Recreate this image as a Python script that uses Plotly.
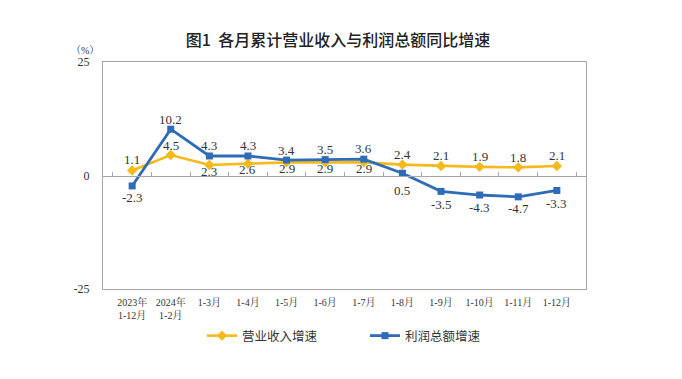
import plotly.graph_objects as go

categories = ["2023年<br>1-12月", "2024年<br>1-2月", "1-3月", "1-4月", "1-5月", "1-6月",
              "1-7月", "1-8月", "1-9月", "1-10月", "1-11月", "1-12月"]
revenue_growth = [1.1, 4.5, 2.3, 2.6, 2.9, 2.9, 2.9, 2.4, 2.1, 1.9, 1.8, 2.1]
profit_growth = [-2.3, 10.2, 4.3, 4.3, 3.4, 3.5, 3.6, 0.5, -3.5, -4.3, -4.7, -3.3]
y_ticks = [-25, 0, 25]

# label vertical offsets in px (style, not data)
revenue_label_shift = [11, 10, -6, -6, -6, -6, -6, 10, 10, 10, 10, 10]
profit_label_shift = [-12, 10, 10, 10, 10, 10, 11, -17, -13, -12, -12, -13]

YELLOW = "#F6B91C"
BLUE = "#2E6BB8"
SERIF = "Liberation Serif, 'Noto Serif CJK SC', 'Noto Sans CJK SC', serif"
CJK = "'Noto Sans CJK SC', sans-serif"

fig = go.Figure()
fig.add_trace(go.Scatter(
    x=categories, y=revenue_growth, name="营业收入增速", mode="lines+markers",
    line=dict(color=YELLOW, width=2.6),
    marker=dict(symbol="diamond", size=8, color=YELLOW),
    xaxis="x", yaxis="y", legend="legend",
))
fig.add_trace(go.Scatter(
    x=categories, y=profit_growth, name="利润总额增速", mode="lines+markers",
    line=dict(color=BLUE, width=2.8),
    marker=dict(symbol="square", size=7, color=BLUE),
    xaxis="x2", yaxis="y", legend="legend2",
))

annotations = []
for cat, v, s in zip(categories, revenue_growth, revenue_label_shift):
    annotations.append(dict(x=cat, y=v, xref="x", yref="y", text=f"{v:.1f}",
                            showarrow=False, yshift=s,
                            font=dict(family=SERIF, size=13, color="#333333")))
for cat, v, s in zip(categories, profit_growth, profit_label_shift):
    annotations.append(dict(x=cat, y=v, xref="x", yref="y", text=f"{v:.1f}",
                            showarrow=False, yshift=s,
                            font=dict(family=SERIF, size=13, color="#333333")))
annotations.append(dict(x=(85 - 103) / 483, y=(289 - 50) / 227, xref="paper", yref="paper",
                        text="（%）", showarrow=False, xanchor="center", yanchor="middle",
                        font=dict(family=SERIF, size=10, color="#333333")))

fig.update_layout(
    width=682, height=379,
    margin=dict(l=103, r=96, t=62, b=90, autoexpand=False),
    paper_bgcolor="white", plot_bgcolor="white",
    title=dict(text="图1  各月累计营业收入与利润总额同比增速",
               x=338 / 682, xanchor="center", xref="container",
               y=1 - 40 / 379, yanchor="middle", yref="container",
               font=dict(family=CJK, size=16, color="#222222", weight=500)),
    xaxis=dict(type="category", categoryorder="array", categoryarray=categories,
               showline=True, mirror=True, linecolor="#A6A6A6", linewidth=1,
               ticks="", showgrid=False, zeroline=False,
               tickfont=dict(family=SERIF, size=10, color="#333333"),
               ticklabelstandoff=4),
    xaxis2=dict(type="category", categoryorder="array", categoryarray=categories,
                overlaying="x", matches="x", anchor="free", position=0.5, side="bottom",
                showline=True, linecolor="#A6A6A6", linewidth=1,
                ticks="inside", tickson="boundaries", ticklen=4, tickcolor="#A6A6A6",
                showticklabels=False, showgrid=False, zeroline=False),
    yaxis=dict(range=[-25, 25], tickvals=y_ticks, ticktext=[str(t) for t in y_ticks],
               showline=True, mirror=True, linecolor="#A6A6A6", linewidth=1,
               showgrid=False, zeroline=False, ticks="",
               tickfont=dict(family=SERIF, size=12, color="#333333"),
               ticklabelstandoff=10),
    legend=dict(orientation="h", xref="container", yref="container",
                x=202 / 682, y=1 - 336 / 379, xanchor="left", yanchor="middle",
                font=dict(family=CJK, size=12.5, color="#333333"),
                bgcolor="rgba(0,0,0,0)", itemwidth=30),
    legend2=dict(orientation="h", xref="container", yref="container",
                 x=365 / 682, y=1 - 336 / 379, xanchor="left", yanchor="middle",
                 font=dict(family=CJK, size=12.5, color="#333333"),
                 bgcolor="rgba(0,0,0,0)", itemwidth=30),
    annotations=annotations,
    showlegend=True,
)

fig.write_html("out.html", config={"displayModeBar": False},
               post_script="document.body.style.margin='0px';document.body.style.padding='0px';")
